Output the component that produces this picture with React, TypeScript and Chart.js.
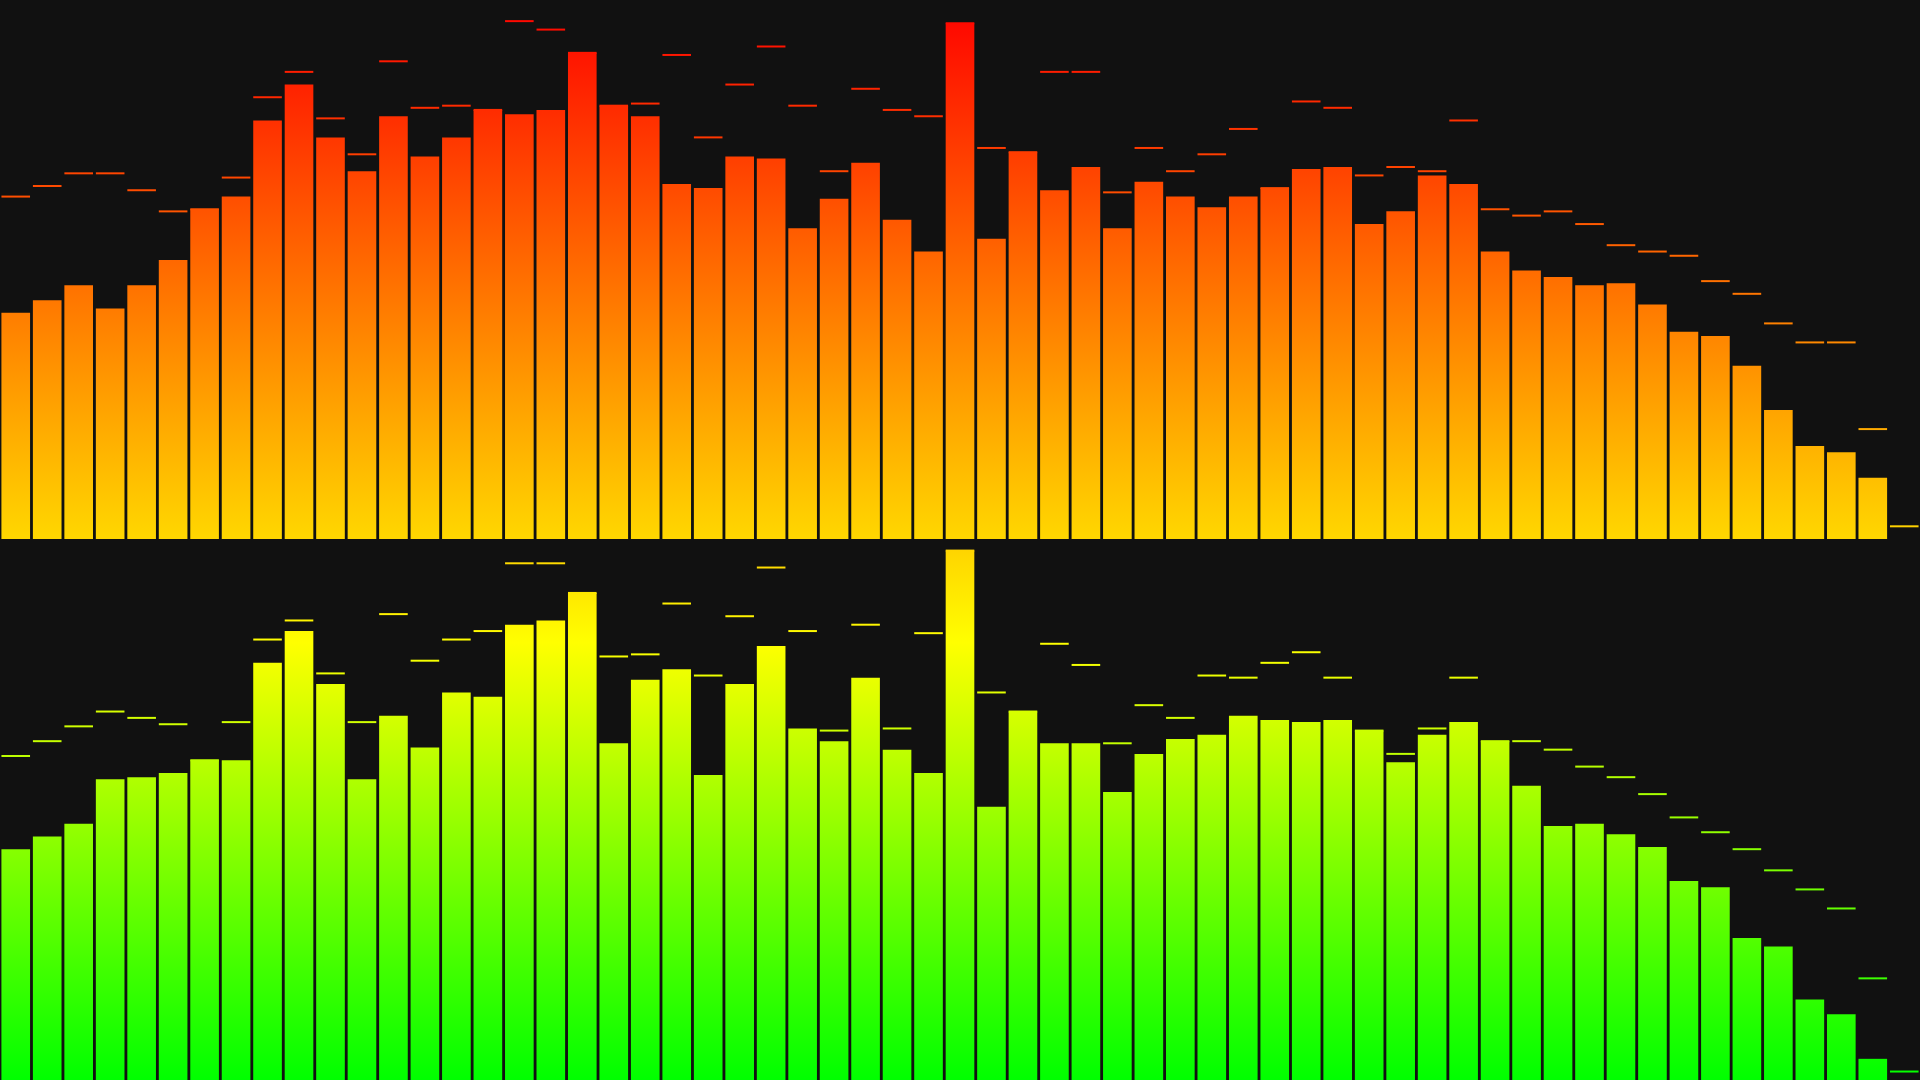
import React, { useEffect, useRef } from "react";
import { Chart, registerables } from "chart.js";

Chart.register(...registerables);

// 61 frequency bands
const BANDS: string[] = Array.from({ length: 61 }, (_, i) => `Band ${i + 1}`);

// Upper analyser (0–255 scale)
const TOP_LEVELS = [107, 113, 120, 109, 120, 132, 156, 162, 198, 215, 190, 174, 200, 181, 190, 203, 201, 203, 230, 205, 200, 168, 166, 181, 180, 147, 161, 178, 151, 136, 244, 142, 183, 165, 176, 147, 169, 162, 157, 162, 166, 175, 176, 149, 155, 172, 168, 136, 127, 124, 120, 121, 111, 98, 96, 82, 61, 44, 41, 29, 0];
const TOP_PEAKS = [162, 167, 173, 173, 165, 155, 156, 171, 209, 221, 199, 182, 226, 204, 205, 203, 245, 241, 230, 205, 206, 229, 190, 215, 233, 205, 174, 213, 203, 200, 244, 185, 183, 221, 221, 164, 185, 174, 182, 194, 166, 207, 204, 172, 176, 174, 198, 156, 153, 155, 149, 139, 136, 134, 122, 116, 102, 93, 93, 52, 6];

// Lower analyser (0–255 scale)
const BOTTOM_LEVELS = [109, 115, 121, 142, 143, 145, 151, 151, 197, 212, 187, 142, 172, 157, 183, 181, 215, 217, 230, 159, 189, 194, 144, 187, 205, 166, 160, 190, 156, 145, 250, 129, 174, 159, 159, 136, 154, 161, 163, 172, 170, 169, 170, 165, 150, 163, 169, 160, 139, 120, 121, 116, 110, 94, 91, 67, 63, 38, 31, 10, 0];
const BOTTOM_PEAKS = [153, 160, 167, 174, 171, 168, 151, 169, 208, 217, 192, 169, 220, 198, 208, 212, 244, 244, 230, 200, 201, 225, 191, 219, 242, 212, 165, 215, 166, 211, 250, 183, 174, 206, 196, 159, 177, 171, 191, 190, 197, 202, 190, 165, 154, 166, 190, 160, 160, 156, 148, 143, 135, 124, 117, 109, 99, 90, 81, 48, 4];

const TOP_STOPS: [number, string][] = [
  [0, "#ff0000"],
  [1, "#ffd700"],
];
const BOTTOM_STOPS: [number, string][] = [
  [0, "#ffd000"],
  [0.19, "#ffff00"],
  [1, "#00ff00"],
];

const Y_MAX = 255;
const BG = "#111111";

function gradientFor(stops: [number, string][]) {
  let cache: CanvasGradient | null = null;
  let key = "";
  return (ctx: any) => {
    const chart = ctx.chart;
    const area = chart.chartArea;
    if (!area) return stops[stops.length - 1][1];
    const k = `${area.top}-${area.bottom}`;
    if (!cache || k !== key) {
      const g = chart.ctx.createLinearGradient(0, area.top, 0, area.bottom);
      stops.forEach(([o, c]) => g.addColorStop(o, c));
      cache = g;
      key = k;
    }
    return cache;
  };
}

function Analyser({ levels, peaks, stops, top, height }: { levels: number[]; peaks: number[]; stops: [number, string][]; top: number; height: number }) {
  const ref = useRef<HTMLCanvasElement | null>(null);
  useEffect(() => {
    if (!ref.current) return;
    const fill = gradientFor(stops);
    const chart = new Chart(ref.current, {
      type: "bar",
      data: {
        labels: BANDS,
        datasets: [
          {
            type: "line",
            label: "Peak",
            data: peaks,
            showLine: false,
            clip: false,
            pointStyle: "line",
            pointRadius: 14.3,
            pointHoverRadius: 14.3,
            pointBorderWidth: 2,
            pointHoverBorderWidth: 2,
            pointBorderColor: fill,
            pointBackgroundColor: fill,
            order: 0,
          } as any,
          {
            type: "bar",
            label: "Level",
            data: levels,
            backgroundColor: fill,
            borderWidth: 0,
            barPercentage: 0.91,
            categoryPercentage: 1,
            order: 1,
          } as any,
        ],
      },
      options: {
        responsive: false,
        animation: false,
        events: [],
        layout: { padding: 0, autoPadding: false },
        plugins: { legend: { display: false }, tooltip: { enabled: false } },
        scales: {
          x: { display: false, offset: true, grid: { display: false } },
          y: { display: false, min: 0, max: Y_MAX, grid: { display: false } },
        },
      },
    });
    return () => chart.destroy();
  }, [levels, peaks, stops]);
  return (
    <canvas
      ref={ref}
      width={1920}
      height={height}
      style={{ position: "absolute", left: 0, top, width: 1920, height, display: "block" }}
    />
  );
}

export default function App() {
  useEffect(() => {
    document.body.style.margin = "0";
    document.body.style.background = BG;
  }, []);
  return (
    <div style={{ position: "fixed", inset: 0, width: 1920, height: 1080, background: BG, overflow: "hidden" }}>
      <Analyser levels={TOP_LEVELS} peaks={TOP_PEAKS} stops={TOP_STOPS} top={0} height={539} />
      <Analyser levels={BOTTOM_LEVELS} peaks={BOTTOM_PEAKS} stops={BOTTOM_STOPS} top={540} height={540} />
    </div>
  );
}
